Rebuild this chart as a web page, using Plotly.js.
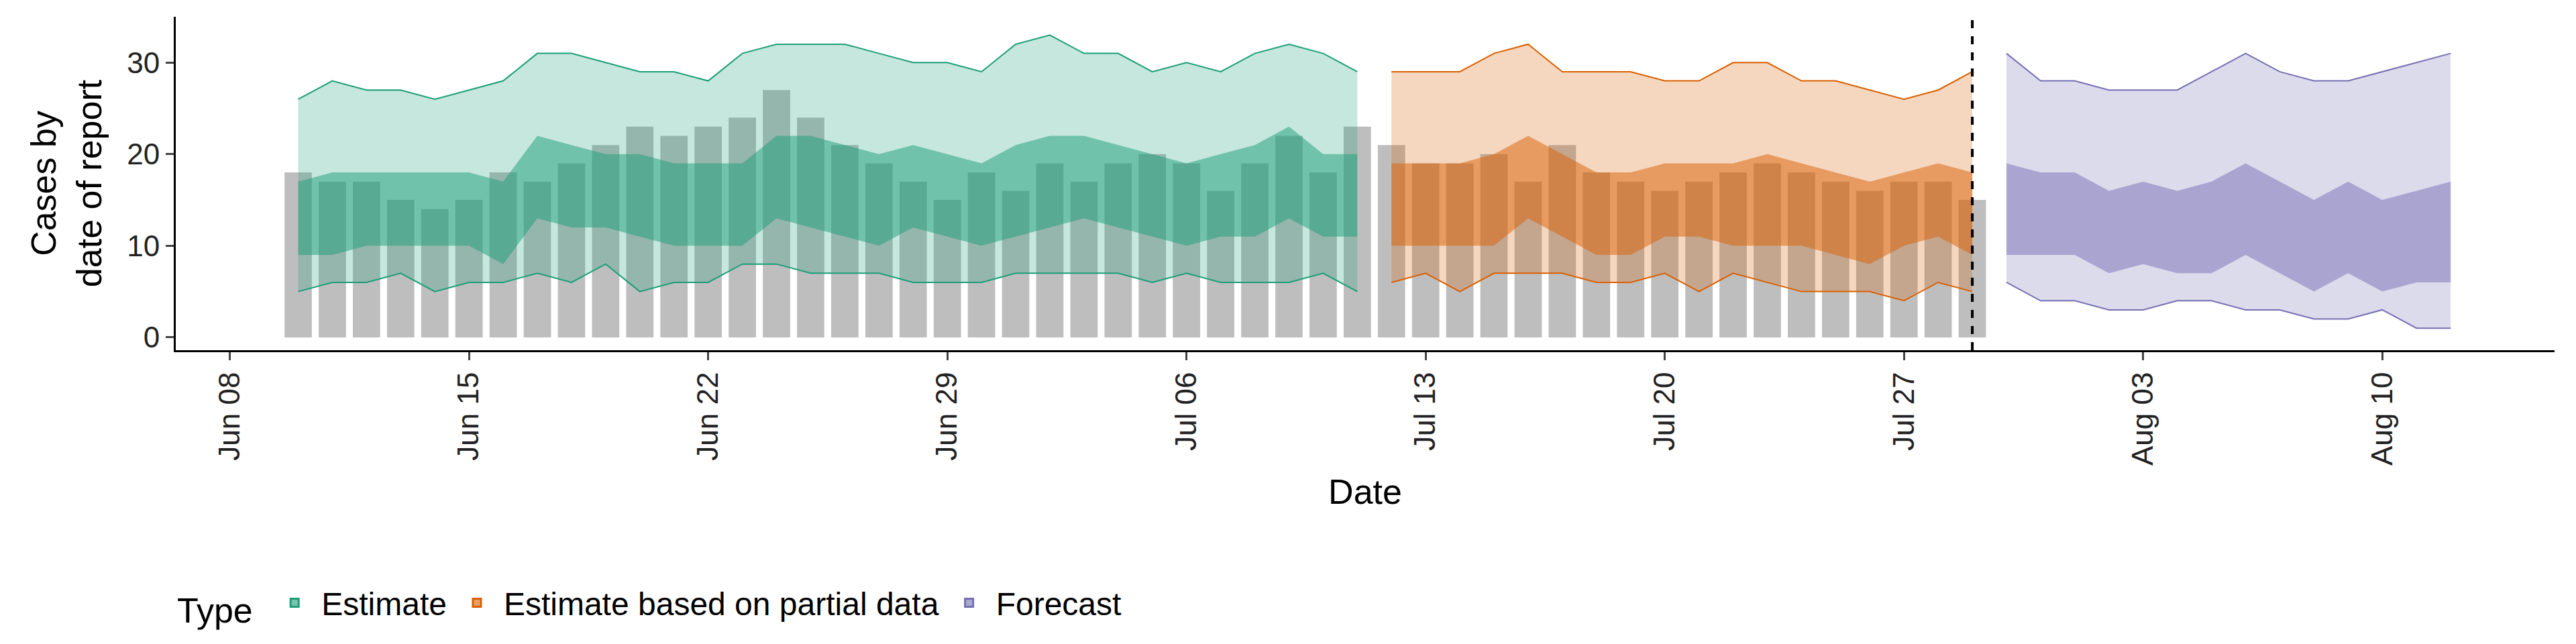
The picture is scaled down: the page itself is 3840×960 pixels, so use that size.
<!DOCTYPE html>
<html>
<head>
<script src="https://cdn.plot.ly/plotly-3.0.1.min.js"></script>
<style>body{margin:0;background:#fff}</style>
</head>
<body>
<div id="myDiv" style="width:3840px;height:960px"></div>
<script>
function days(start, n) {
  var out = [];
  var d0 = new Date(start + "T00:00:00Z");
  for (var i = 0; i < n; i++) {
    var d = new Date(d0.getTime() + i * 86400000);
    out.push(d.toISOString().slice(0, 10));
  }
  return out;
}

// reported cases, Jun 10 - Jul 29
var caseDates = days("2020-06-10", 50);
var cases = [18,17,17,15,14,15,18,17,19,21,23,22,23,24,27,24,21,19,17,15,18,16,19,17,19,20,19,16,19,22,18,23,
             21,19,19,20,17,21,18,17,16,17,18,19,18,17,16,17,17,15];

// Estimate, Jun 10 - Jul 11
var estDates = days("2020-06-10", 32);
var estUpper90 = [26,28,27,27,26,27,28,31,31,30,29,29,28,31,32,32,32,31,30,30,29,32,33,31,31,29,30,29,31,32,31,29];
var estUpper50 = [17,18,18,18,18,18,17,22,21,20,20,19,19,19,22,22,21,20,21,20,19,21,22,22,21,20,19,20,21,23,20,20];
var estLower50 = [9,9,10,10,10,10,8,13,12,12,11,10,10,10,13,12,11,10,12,11,10,11,12,13,12,11,10,11,11,13,11,11];
var estLower90 = [5,6,6,7,5,6,6,7,6,8,5,6,6,8,8,7,7,7,6,6,6,7,7,7,7,6,7,6,6,6,7,5];

// Estimate based on partial data, Jul 12 - Jul 29
var partDates = days("2020-07-12", 18);
var partUpper90 = [29,29,29,31,32,29,29,29,28,28,30,30,28,28,27,26,27,29];
var partUpper50 = [19,19,19,20,22,20,18,18,19,19,19,20,19,18,17,18,19,18];
var partLower50 = [10,10,10,10,13,11,9,9,11,11,10,10,10,9,8,10,11,9];
var partLower90 = [6,7,5,7,7,7,6,6,7,5,7,6,5,5,5,4,6,5];

// Forecast, Jul 30 - Aug 12
var fcDates = days("2020-07-30", 14);
var fcUpper90 = [31,28,28,27,27,27,29,31,29,28,28,29,30,31];
var fcUpper50 = [19,18,18,16,17,16,17,19,17,15,17,15,16,17];
var fcLower50 = [9,9,9,7,8,7,7,9,7,5,7,5,6,6];
var fcLower90 = [6,4,4,3,3,4,4,3,3,2,2,3,1,1];

function band(x, up, lo, color, opacity) {
  return {
    x: x.concat(x.slice().reverse()),
    y: up.concat(lo.slice().reverse()),
    fill: "toself", fillcolor: color, opacity: opacity,
    line: {width: 0, color: color},
    mode: "lines", showlegend: false, hoverinfo: "skip", type: "scatter"
  };
}
function edge(x, y, color) {
  return {x: x, y: y, mode: "lines", line: {color: color, width: 2},
    showlegend: false, hoverinfo: "skip", type: "scatter"};
}

var green = "#1b9e77", orange = "#d95f02", purple = "#7570b3";
var swatch = ["rgba(27,158,119,0.6)", "rgba(217,95,2,0.6)", "rgba(117,112,179,0.6)"];
var groups = [
  [estDates, estUpper90, estUpper50, estLower50, estLower90, green, "Estimate"],
  [partDates, partUpper90, partUpper50, partLower50, partLower90, orange, "Estimate based on partial data"],
  [fcDates, fcUpper90, fcUpper50, fcLower50, fcLower90, purple, "Forecast"]
];

var data = [{
  x: caseDates, y: cases, type: "bar", marker: {color: "#bebebe"},
  width: 0.8 * 86400000, showlegend: false, hoverinfo: "skip"
}];
groups.forEach(function(g, i) {
  data.push(band(g[0], g[1], g[4], g[5], 0.25));
  data.push(band(g[0], g[2], g[3], g[5], 0.5));
  data.push(edge(g[0], g[1], g[5]));
  data.push(edge(g[0], g[4], g[5]));
  // legend-only swatch
  data.push({x: [null], y: [null], type: "bar", name: g[6],
    marker: {color: swatch[i], line: {color: g[5], width: 3}}, showlegend: true});
});

var font = {family: "Liberation Sans, Arial, sans-serif", size: 46, color: "#000"};
var layout = {
  width: 3840, height: 960,
  margin: {l: 262, r: 32, t: 25, b: 438},
  paper_bgcolor: "#fff", plot_bgcolor: "#fff",
  font: font,
  barmode: "overlay",
  xaxis: {
    type: "date", range: ["2020-06-06 10:00", "2020-08-15 01:00"],
    tick0: "2020-06-08", dtick: 7 * 86400000, tickformat: "%b %d",
    tickangle: -90, ticks: "outside", ticklen: 12, tickwidth: 3,
    showline: true, linewidth: 3, linecolor: "#000", showgrid: false, zeroline: false,
    tickfont: {size: 44, color: "#222"},
    title: {text: "Date", font: {size: 52}, standoff: 22}
  },
  yaxis: {
    range: [-1.4, 35], tickvals: [0, 10, 20, 30],
    ticks: "outside", ticklen: 12, tickwidth: 3,
    showline: true, linewidth: 3, linecolor: "#000", showgrid: false, zeroline: false,
    tickfont: {size: 44, color: "#222"},
    title: {text: "Cases by<br>date of report", font: {size: 52}, standoff: 22}
  },
  shapes: [{
    type: "line", xref: "x", yref: "paper", x0: "2020-07-29", x1: "2020-07-29",
    y0: 0, y1: 1, line: {color: "#000", width: 4, dash: "dash"}
  }],
  legend: {
    orientation: "h", x: 0, xanchor: "left", y: -0.76, yanchor: "middle",
    title: {text: "Type ", font: {size: 52}}, font: {size: 48},
    itemwidth: 70
  }
};

Plotly.newPlot("myDiv", data, layout, {staticPlot: true});
</script>
</body>
</html>
